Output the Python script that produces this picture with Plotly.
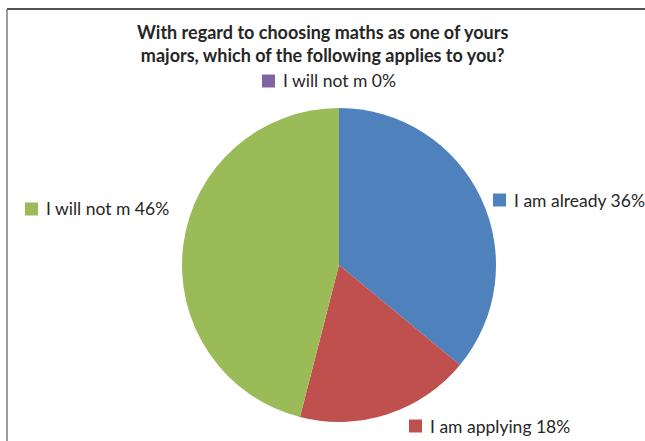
import plotly.graph_objects as go

W, H = 645, 441

labels = ["I am already", "I am applying", "I will not m", "I will not m"]
values = [36, 18, 46, 0]
colors = ["#4F81BD", "#C0504D", "#9BBB59", "#8064A2"]
title_lines = ["With regard to choosing maths as one of yours",
               "majors, which of the following applies to you?"]

# label layout (pixel positions of the legend-like keys)
label_pos = [(493, 200), (409, 426), (25, 209), (262, 81)]

def px(x):
    return x / W

def py(y):
    return 1 - y / H

cx, cy, r = 339, 265, 157

fig = go.Figure(go.Pie(
    labels=[f"{l} {i}" for i, l in enumerate(labels)],
    values=values,
    sort=False,
    direction="clockwise",
    rotation=0,
    marker=dict(colors=colors, line=dict(width=0)),
    textinfo="none",
    hoverinfo="label+percent",
    showlegend=False,
    domain=dict(x=[px(cx - r), px(cx + r)], y=[py(cy + r), py(cy - r)]),
))

shapes = [
    dict(type="line", xref="paper", yref="paper",
         x0=px(7), x1=px(650), y0=py(9), y1=py(9),
         line=dict(color="#1a1a1a", width=1.5)),
    dict(type="line", xref="paper", yref="paper",
         x0=px(7), x1=px(7), y0=py(9), y1=py(470),
         line=dict(color="#7a7a7a", width=1.5)),
]
annotations = []
total = sum(values)
for (lx, ly), lab, v, c in zip(label_pos, labels, values, colors):
    shapes.append(dict(type="rect", xref="paper", yref="paper",
                       x0=px(lx), x1=px(lx + 13), y0=py(ly + 6.5), y1=py(ly - 6.5),
                       line=dict(width=0), fillcolor=c))
    annotations.append(dict(x=px(lx + 19), y=py(ly), xref="paper", yref="paper",
                            text=f"{lab} {round(100 * v / total)}%", showarrow=False,
                            xanchor="left", yanchor="middle",
                            font=dict(family="Lato", size=17.5, color="#262626")))

annotations.append(dict(x=px(322), y=py(43), xref="paper", yref="paper",
                        text="<b>" + "<br>".join(title_lines) + "</b>", showarrow=False,
                        xanchor="center", yanchor="middle", align="center",
                        font=dict(family="Lato", size=18, color="#262626")))

fig.update_layout(width=W, height=H, margin=dict(l=0, r=0, t=0, b=0),
                  paper_bgcolor="white", plot_bgcolor="white",
                  shapes=shapes, annotations=annotations)

fig.write_html("out.html", config={"displayModeBar": False},
               post_script="document.body.style.margin='0';document.body.style.overflow='hidden';")
